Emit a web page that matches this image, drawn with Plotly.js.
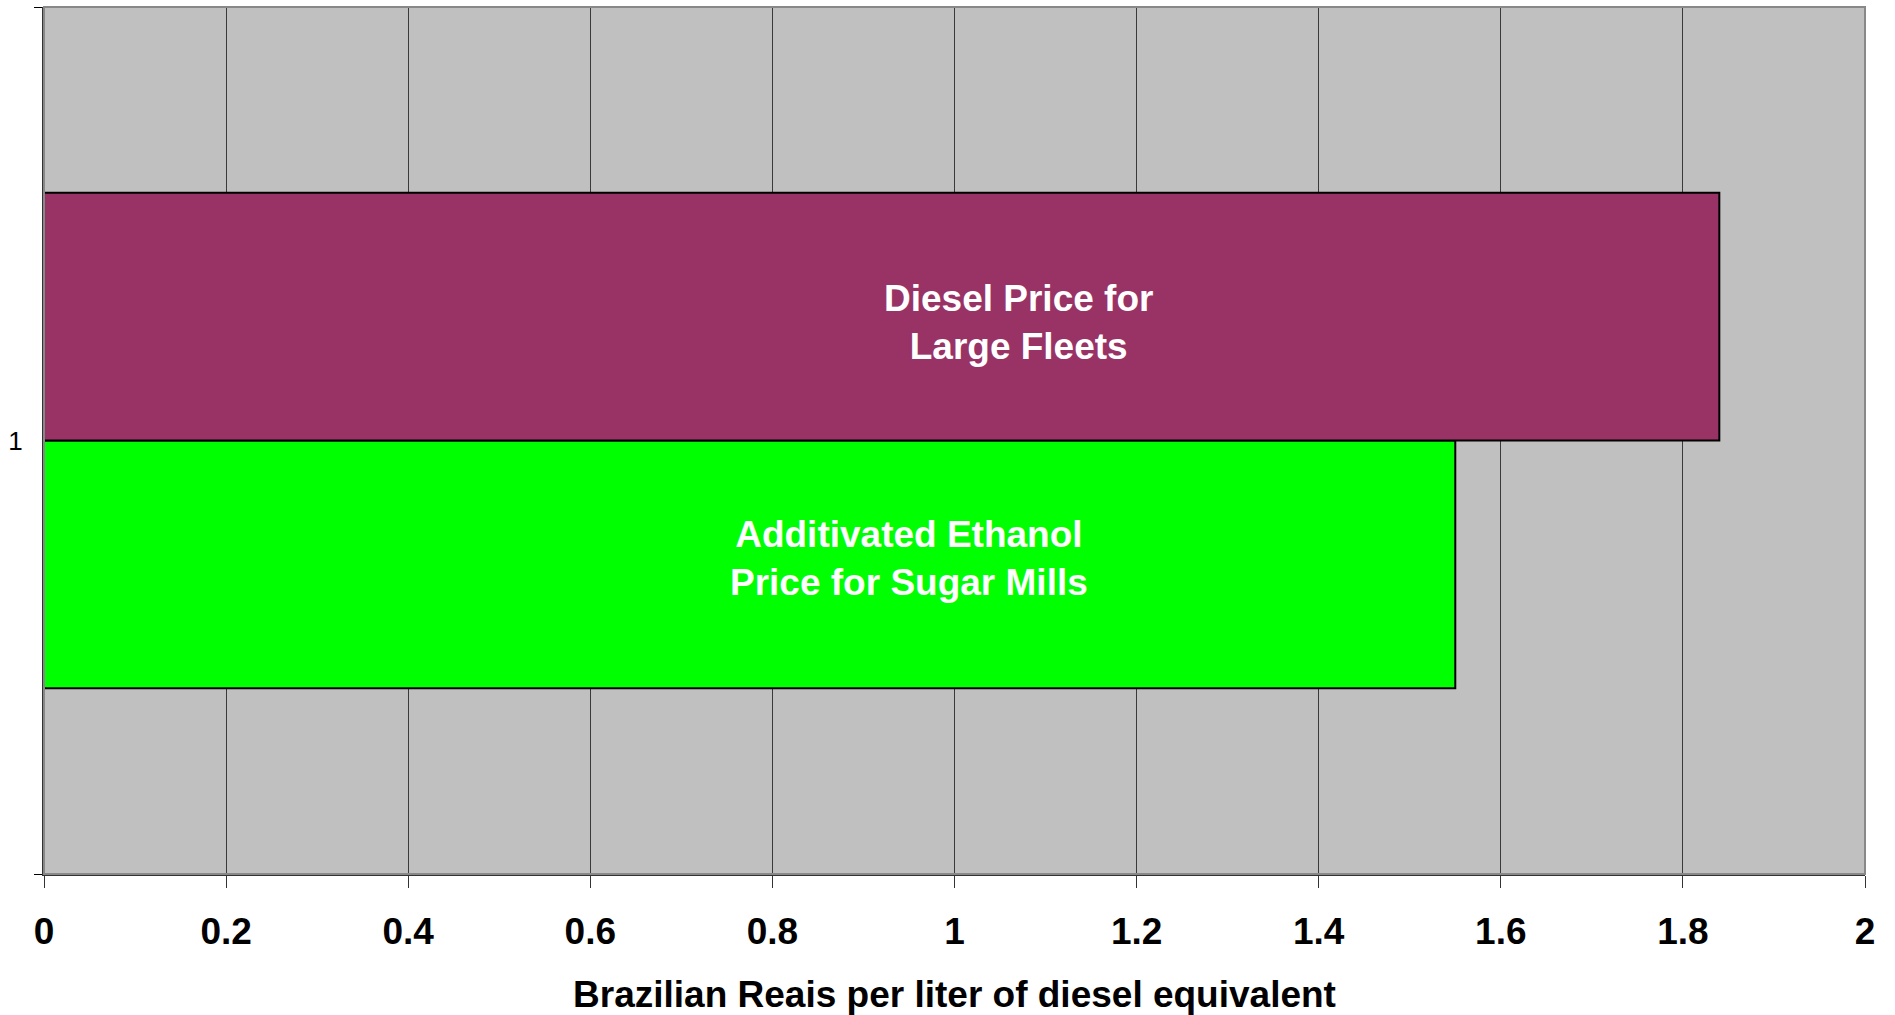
<!DOCTYPE html>
<html>
<head>
<meta charset="utf-8">
<script src="https://cdn.plot.ly/plotly-3.0.1.min.js"></script>
<style>
  html, body { margin: 0; padding: 0; background: #ffffff; }
  #chart { width: 1895px; height: 1015px; }
</style>
</head>
<body>
<div id="chart"></div>
<script>
// Fuel price comparison, Brazilian Reais per liter of diesel equivalent
const categories = ['1'];
const seriesNames = ['Additivated Ethanol<br>Price for Sugar Mills', 'Diesel Price for<br>Large Fleets'];
const ethanolPrice = [1.55];
const dieselPrice = [1.84];
const xTickValues = [0, 0.2, 0.4, 0.6, 0.8, 1, 1.2, 1.4, 1.6, 1.8, 2];
const xTitle = 'Brazilian Reais per liter of diesel equivalent';

const FONT = '"Liberation Sans", Arial, Helvetica, sans-serif';

const traces = [
  {
    type: 'bar', orientation: 'h', name: seriesNames[0],
    y: categories, x: ethanolPrice,
    marker: { color: '#00FF00', line: { color: '#000000', width: 2 } },
    hoverinfo: 'skip'
  },
  {
    type: 'bar', orientation: 'h', name: seriesNames[1],
    y: categories, x: dieselPrice,
    marker: { color: '#993366', line: { color: '#000000', width: 2 } },
    hoverinfo: 'skip'
  }
];

// In-bar captions (x in data units, y in category units)
const captionPos = [
  { x: 0.95, y: -0.136 },
  { x: 1.07, y: 0.136 }
];

const layout = {
  width: 1895, height: 1015,
  margin: { l: 44, r: 30, t: 7, b: 141, pad: 0 },
  paper_bgcolor: '#ffffff',
  plot_bgcolor: '#C0C0C0',
  showlegend: false,
  barmode: 'group',
  bargap: 0.4286,
  bargroupgap: 0,
  font: { family: FONT, color: '#000000' },
  xaxis: {
    range: [0, 2],
    tickvals: xTickValues,
    ticktext: xTickValues.map(v => String(v)),
    showgrid: true, gridcolor: '#3a3a3a', gridwidth: 1,
    zeroline: false,
    showline: true, linecolor: '#333333', linewidth: 2,
    ticks: 'outside', ticklen: 12, tickwidth: 1, tickcolor: '#333333',
    ticklabelstandoff: 12,
    tickfont: { family: FONT, size: 37, weight: 'bold', color: '#000000' },
    title: { text: xTitle, font: { family: FONT, size: 37, weight: 'bold', color: '#000000' }, standoff: 30 },
    fixedrange: true
  },
  yaxis: {
    type: 'category',
    range: [-0.5, 0.5],
    showgrid: false, zeroline: false,
    showline: true, linecolor: '#333333', linewidth: 2,
    ticks: 'outside', tickson: 'boundaries', ticklen: 8, tickwidth: 1, tickcolor: '#000000',
    ticklabelstandoff: 14,
    tickfont: { family: FONT, size: 26, color: '#000000' },
    fixedrange: true
  },
  shapes: [
    {
      type: 'rect', xref: 'paper', yref: 'paper', x0: 0, x1: 1, y0: 0, y1: 1,
      line: { color: '#888888', width: 2 }, fillcolor: 'rgba(0,0,0,0)', layer: 'above'
    }
  ],
  annotations: seriesNames.map((t, i) => ({
    text: t, xref: 'x', yref: 'y', x: captionPos[i].x, y: captionPos[i].y,
    showarrow: false, xanchor: 'center', yanchor: 'middle', align: 'center',
    font: { family: FONT, size: 37, weight: 'bold', color: '#ffffff' }
  }))
};

Plotly.newPlot('chart', traces, layout, { displayModeBar: false, staticPlot: true });
</script>
</body>
</html>
